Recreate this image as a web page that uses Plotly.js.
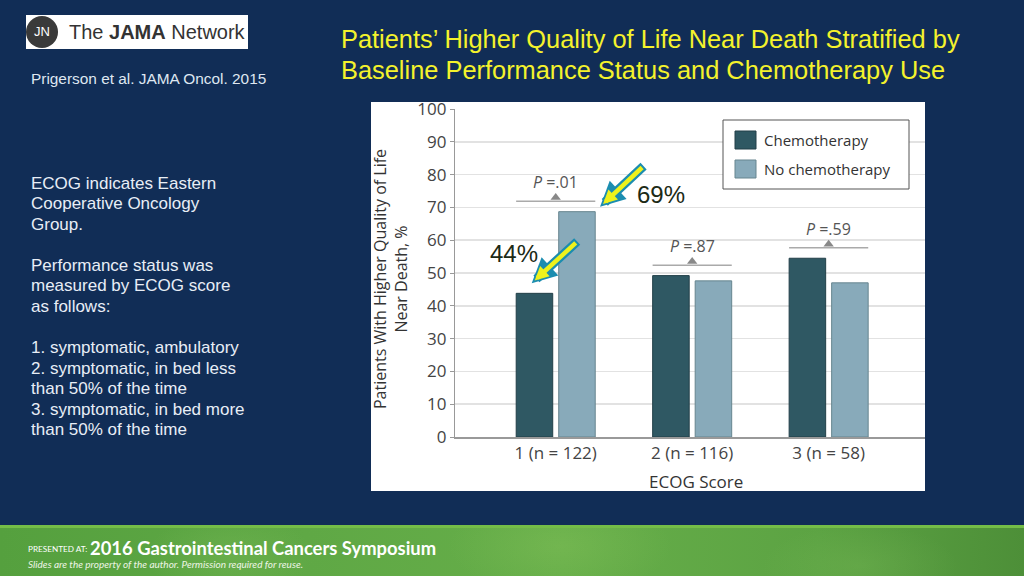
<!DOCTYPE html>
<html><head><meta charset="utf-8">
<script src="https://cdn.plot.ly/plotly-3.0.1.min.js"></script>
<style>
html,body{margin:0;padding:0;width:1024px;height:576px;overflow:hidden;background:#112d56;}
#band{position:absolute;left:0;top:526px;width:1024px;height:50px;
 background:
  radial-gradient(ellipse 120px 60px at 230px 30px, rgba(140,200,100,0.25), rgba(140,200,100,0) 70%),
  radial-gradient(ellipse 160px 70px at 560px 20px, rgba(150,205,100,0.25), rgba(150,205,100,0) 70%),
  radial-gradient(ellipse 140px 60px at 860px 40px, rgba(140,200,100,0.2), rgba(140,200,100,0) 70%),
  linear-gradient(to right,#55a03e 0%,#5fa845 30%,#66ae49 55%,#5ca343 80%,#4d8f38 100%);}
#bandline{position:absolute;left:0;top:525px;width:1024px;height:3px;background:#74bd47;}
#chart{position:absolute;left:0;top:0;width:1024px;height:576px;}
</style></head>
<body>
<div id="band"></div><div id="bandline"></div>
<div id="chart"></div>
<script>
// ---- data ----
const categories = ['1 (n = 122)', '2 (n = 116)', '3 (n = 58)'];
const seriesNames = ['Chemotherapy', 'No chemotherapy'];
const chemoValues = [43.8, 49.2, 54.5];
const noChemoValues = [68.7, 47.6, 47.0];
const pValues = ['.01', '.87', '.59'];
const yTickValues = [0, 10, 20, 30, 40, 50, 60, 70, 80, 90, 100];
const xAxisTitle = 'ECOG Score';
const yAxisTitle = 'Patients With Higher Quality of Life<br>Near Death, %';
const slideTitle = ['Patients\u2019 Higher Quality of Life Near Death Stratified by',
                    'Baseline Performance Status and Chemotherapy Use'];
const citation = 'Prigerson et al. JAMA Oncol. 2015';
const notes = ['ECOG indicates Eastern', 'Cooperative Oncology', 'Group.', '',
  'Performance status was', 'measured by ECOG score', 'as follows:', '',
  '1. symptomatic, ambulatory', '2. symptomatic, in bed less', 'than 50% of the time',
  '3. symptomatic, in bed more', 'than 50% of the time'];

// ---- styles ----
const chemoColor = '#2f5863', chemoLine = '#223f48';
const noChemoColor = '#88aaba', noChemoLine = '#67858f';
const chartFont = 'Open Sans, Noto Sans, sans-serif';
const slideFont = 'Liberation Sans, Arial, sans-serif';

// plot area in pixels: x 455..925, y 109..437
const L = 455, R = 925, T = 109, B = 437;
const X = px => (px - L) / (R - L);
const Y = py => (B - py) / (B - T);

const bracketLevels = categories.map((c, i) => Math.max(chemoValues[i], noChemoValues[i]) + 3.2);

const traces = [
  {type: 'bar', name: seriesNames[0], x: categories, y: chemoValues,
   marker: {color: chemoColor, line: {color: chemoLine, width: 1}}, hoverinfo: 'y'},
  {type: 'bar', name: seriesNames[1], x: categories, y: noChemoValues,
   marker: {color: noChemoColor, line: {color: noChemoLine, width: 1}}, hoverinfo: 'y'},
  {type: 'scatter', mode: 'markers', x: categories, y: bracketLevels.map(v => v + 1.1),
   marker: {symbol: 'triangle-up', size: 9, color: '#888888'}, hoverinfo: 'skip', showlegend: false}
];

const shapes = [];
const annotations = [];

// white chart panel
shapes.push({type: 'rect', xref: 'paper', yref: 'paper', layer: 'below',
  x0: X(371), x1: X(925), y0: Y(491), y1: Y(102), fillcolor: '#ffffff', line: {width: 0}});
// logo
shapes.push({type: 'rect', xref: 'paper', yref: 'paper',
  x0: X(26), x1: X(248), y0: Y(49), y1: Y(15), fillcolor: '#ffffff', line: {width: 0}});
shapes.push({type: 'circle', xref: 'paper', yref: 'paper',
  x0: X(26), x1: X(58), y0: Y(48), y1: Y(16), fillcolor: '#3a3a3a', line: {width: 0}});
annotations.push({xref: 'paper', yref: 'paper', x: X(42), y: Y(32), text: 'JN', showarrow: false,
  font: {family: slideFont, size: 13, color: '#ffffff'}, xanchor: 'center', yanchor: 'middle'});
annotations.push({xref: 'paper', yref: 'paper', x: X(67), y: Y(32), text: 'The <b>JAMA</b> Network', showarrow: false,
  font: {family: slideFont, size: 20, color: '#333333'}, xanchor: 'left', yanchor: 'middle'});

// slide title
annotations.push({xref: 'paper', yref: 'paper', x: X(339), y: Y(39), text: slideTitle[0], showarrow: false,
  font: {family: slideFont, size: 25.4, color: '#f4f22c'}, xanchor: 'left', yanchor: 'middle'});
annotations.push({xref: 'paper', yref: 'paper', x: X(339), y: Y(70), text: slideTitle[1], showarrow: false,
  font: {family: slideFont, size: 25.4, color: '#f4f22c'}, xanchor: 'left', yanchor: 'middle'});
// citation
annotations.push({xref: 'paper', yref: 'paper', x: X(29), y: Y(79), text: citation, showarrow: false,
  font: {family: slideFont, size: 15.4, color: '#dfe7f1'}, xanchor: 'left', yanchor: 'middle'});
// notes
notes.forEach((line, i) => {
  if (!line) return;
  annotations.push({xref: 'paper', yref: 'paper', x: X(29), y: Y(183.3 + i * 20.53), text: line, showarrow: false,
    font: {family: slideFont, size: 17, color: '#e8eef6'}, xanchor: 'left', yanchor: 'middle'});
});
// footer
annotations.push({xref: 'paper', yref: 'paper', x: X(26), y: Y(549), text: 'PRESENTED AT:', showarrow: false,
  font: {family: 'Lato, sans-serif', size: 8.2, color: '#ffffff'}, xanchor: 'left', yanchor: 'middle'});
annotations.push({xref: 'paper', yref: 'paper', x: X(88), y: Y(548), text: '<b>2016 Gastrointestinal Cancers Symposium</b>', showarrow: false,
  font: {family: 'Lato, sans-serif', size: 18.4, color: '#ffffff'}, xanchor: 'left', yanchor: 'middle'});
annotations.push({xref: 'paper', yref: 'paper', x: X(26), y: Y(564), text: '<i>Slides are the property of the author. Permission required for reuse.</i>', showarrow: false,
  font: {family: 'Lato, sans-serif', size: 10, color: '#eef5e6'}, xanchor: 'left', yanchor: 'middle'});

// axis titles
annotations.push({xref: 'paper', yref: 'paper', x: X(390), y: Y(279), text: yAxisTitle, showarrow: false, textangle: -90,
  font: {family: chartFont, size: 16, color: '#333333'}, xanchor: 'center', yanchor: 'middle'});
annotations.push({xref: 'paper', yref: 'paper', x: X(696), y: Y(481), text: xAxisTitle, showarrow: false,
  font: {family: chartFont, size: 17, color: '#333333'}, xanchor: 'center', yanchor: 'middle'});

// legend (manual)
shapes.push({type: 'rect', xref: 'paper', yref: 'paper', x0: X(723), x1: X(909), y0: Y(189), y1: Y(120),
  fillcolor: '#ffffff', line: {color: '#555555', width: 1}});
[[chemoColor, chemoLine, 140], [noChemoColor, noChemoLine, 169]].forEach((s, i) => {
  shapes.push({type: 'rect', xref: 'paper', yref: 'paper', x0: X(735), x1: X(756), y0: Y(s[2] + 9), y1: Y(s[2] - 9),
    fillcolor: s[0], line: {color: s[1], width: 1}});
  annotations.push({xref: 'paper', yref: 'paper', x: X(762), y: Y(s[2]), text: seriesNames[i], showarrow: false,
    font: {family: chartFont, size: 15, color: '#333333'}, xanchor: 'left', yanchor: 'middle'});
});

// P-value brackets
categories.forEach((c, i) => {
  const top = bracketLevels[i];
  shapes.push({type: 'line', xref: 'x', yref: 'y', x0: i - 0.29, x1: i + 0.29, y0: top, y1: top,
    line: {color: '#aaaaaa', width: 1.5}});
  annotations.push({xref: 'x', yref: 'y', x: i, y: top + 5.7, text: '<i>P</i> =' + pValues[i], showarrow: false,
    font: {family: chartFont, size: 16, color: '#555555'}, xanchor: 'center', yanchor: 'middle'});
});

// call-out arrows and labels
function blockArrow(x, y, ax, ay) {
  annotations.push({xref: 'x', yref: 'y', x: x, y: y, ax: ax, ay: ay, text: '', showarrow: true,
    arrowhead: 2, arrowsize: 0.55, arrowwidth: 9, arrowcolor: '#1b8db0'});
  annotations.push({xref: 'x', yref: 'y', x: x, y: y, ax: ax, ay: ay, text: '', showarrow: true,
    arrowhead: 2, arrowsize: 0.62, arrowwidth: 4.5, arrowcolor: '#eef21c', standoff: 4, startstandoff: 2});
}
blockArrow(0.325, noChemoValues[0] + 1.5, 45, -42);
blockArrow(-0.176, chemoValues[0] + 3.1, 47, -43);
annotations.push({xref: 'x', yref: 'y', x: 0.77, y: noChemoValues[0] + 5.1, text: Math.round(noChemoValues[0]) + '%', showarrow: false,
  font: {family: slideFont, size: 24, color: '#1c2a16'}, xanchor: 'center', yanchor: 'middle'});
annotations.push({xref: 'x', yref: 'y', x: -0.307, y: chemoValues[0] + 12, text: Math.round(chemoValues[0]) + '%', showarrow: false,
  font: {family: slideFont, size: 24, color: '#1c2a16'}, xanchor: 'center', yanchor: 'middle'});

const layout = {
  width: 1024, height: 576,
  margin: {l: L, r: 1024 - R, t: T, b: 576 - B, pad: 0},
  paper_bgcolor: 'rgba(0,0,0,0)', plot_bgcolor: '#ffffff',
  showlegend: false,
  barmode: 'group', bargap: 0.377, bargroupgap: 0.141,
  xaxis: {type: 'category', range: [-0.738, 2.706], showgrid: false, zeroline: false,
    showline: true, linecolor: '#999999', linewidth: 1.5, ticks: '',
    tickfont: {family: chartFont, size: 17, color: '#444444'}, fixedrange: true},
  yaxis: {range: [0, 100], tickvals: yTickValues, showgrid: true, gridcolor: '#e2e2e2', gridwidth: 1.5,
    zeroline: false, showline: true, linecolor: '#999999', linewidth: 1.2,
    ticks: 'outside', ticklen: 4, tickcolor: '#999999',
    tickfont: {family: chartFont, size: 17, color: '#444444'}, fixedrange: true},
  shapes: shapes,
  annotations: annotations
};

Plotly.newPlot('chart', traces, layout, {displayModeBar: false, staticPlot: true});
</script>
</body></html>
